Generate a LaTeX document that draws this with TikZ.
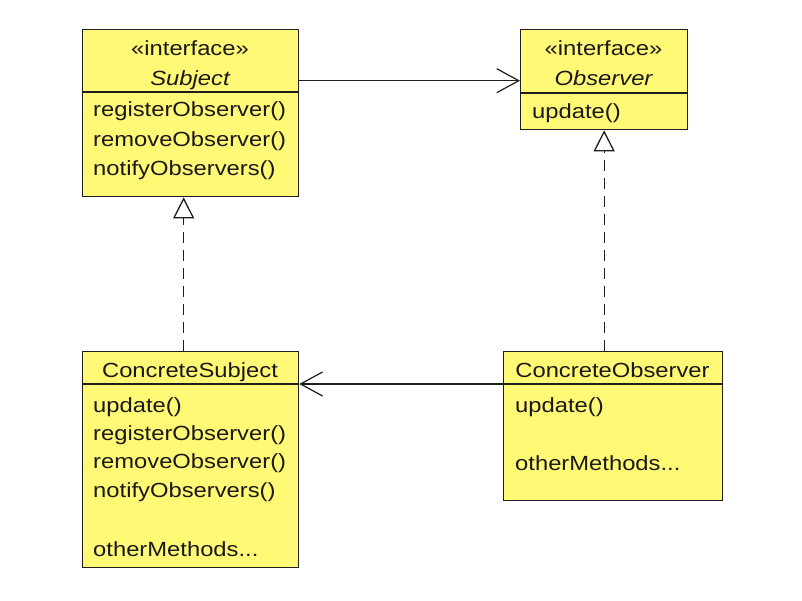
\documentclass[tikz,border=0pt]{standalone}
\usepackage{fontspec}
\setmainfont{Liberation Sans}[FakeStretch=1.16]
\usetikzlibrary{arrows.meta}
\definecolor{umlfill}{RGB}{255,249,117}
\definecolor{umlline}{RGB}{30,30,30}
\definecolor{umltext}{RGB}{25,25,25}
\tikzset{
  classbox/.style={draw=umlline, line width=1.3pt, fill=umlfill, rectangle,
    anchor=north west, inner sep=0pt},
  divider/.style={draw=umlline, line width=1.2pt},
  txt/.style={inner sep=0pt, text=umltext, font=\fontsize{20.5}{24}\selectfont},
  member/.style={txt, anchor=base west},
  title/.style={txt, anchor=base},
  assoc/.style={draw=umlline, line width=1.2pt,
    -{Straight Barb[length=22pt, width=24pt, line width=1.2pt]}},
  realize/.style={draw=umlline, line width=1.2pt, dash pattern=on 11pt off 7pt,
    -{Triangle[open, length=21pt, width=21pt, fill=white, line width=1.3pt]}}
}
\begin{document}
\begin{tikzpicture}[x=1pt, y=-1pt]
\useasboundingbox[fill=white] (0,0) rectangle (802,600);

% interface Subject
\node[classbox, minimum width=216pt, minimum height=167pt] (subj) at (82,29) {};
\draw[divider] (82,92) -- (298,92);
\node[title] (subj-st) at (190,55) {«interface»};
\node[title] (subj-nm) at (190,85) {\itshape Subject};
\node[member] (subj-m1) at (93,116) {registerObserver()};
\node[member] (subj-m2) at (93,146) {removeObserver()};
\node[member] (subj-m3) at (93,175) {notifyObservers()};

% interface Observer
\node[classbox, minimum width=167pt, minimum height=100pt] (obs) at (520,29) {};
\draw[divider] (520,93) -- (687,93);
\node[title] (obs-st) at (603.5,55) {«interface»};
\node[title] (obs-nm) at (603.5,85) {\itshape Observer};
\node[member] (obs-m1) at (532,118) {update()};

% ConcreteSubject
\node[classbox, minimum width=216pt, minimum height=216pt] (csubj) at (82,351) {};
\draw[divider] (82,384) -- (298,384);
\node[title] (csubj-nm) at (190,377) {ConcreteSubject};
\node[member] (csubj-m1) at (93,412) {update()};
\node[member] (csubj-m2) at (93,440) {registerObserver()};
\node[member] (csubj-m3) at (93,468) {removeObserver()};
\node[member] (csubj-m4) at (93,497) {notifyObservers()};
\node[member] (csubj-m5) at (93,556) {otherMethods...};

% ConcreteObserver
\node[classbox, minimum width=219pt, minimum height=149pt] (cobs) at (503,351) {};
\draw[divider] (503,384) -- (722,384);
\node[title] (cobs-nm) at (612.5,377) {ConcreteObserver};
\node[member] (cobs-m1) at (515,412) {update()};
\node[member] (cobs-m2) at (515,470) {otherMethods...};

% associations
\draw[assoc] ([yshift=-51.7pt]subj.north east) -- ([yshift=-51.7pt]obs.north west);
\draw[assoc] ([yshift=-33pt]cobs.north west) -- ([yshift=-33pt]csubj.north east);

% realizations
\draw[realize] ([xshift=-7pt]csubj.north) -- ([xshift=-7pt]subj.south);
\draw[realize] (obs.south |- cobs.north) -- (obs.south);
\end{tikzpicture}
\end{document}
